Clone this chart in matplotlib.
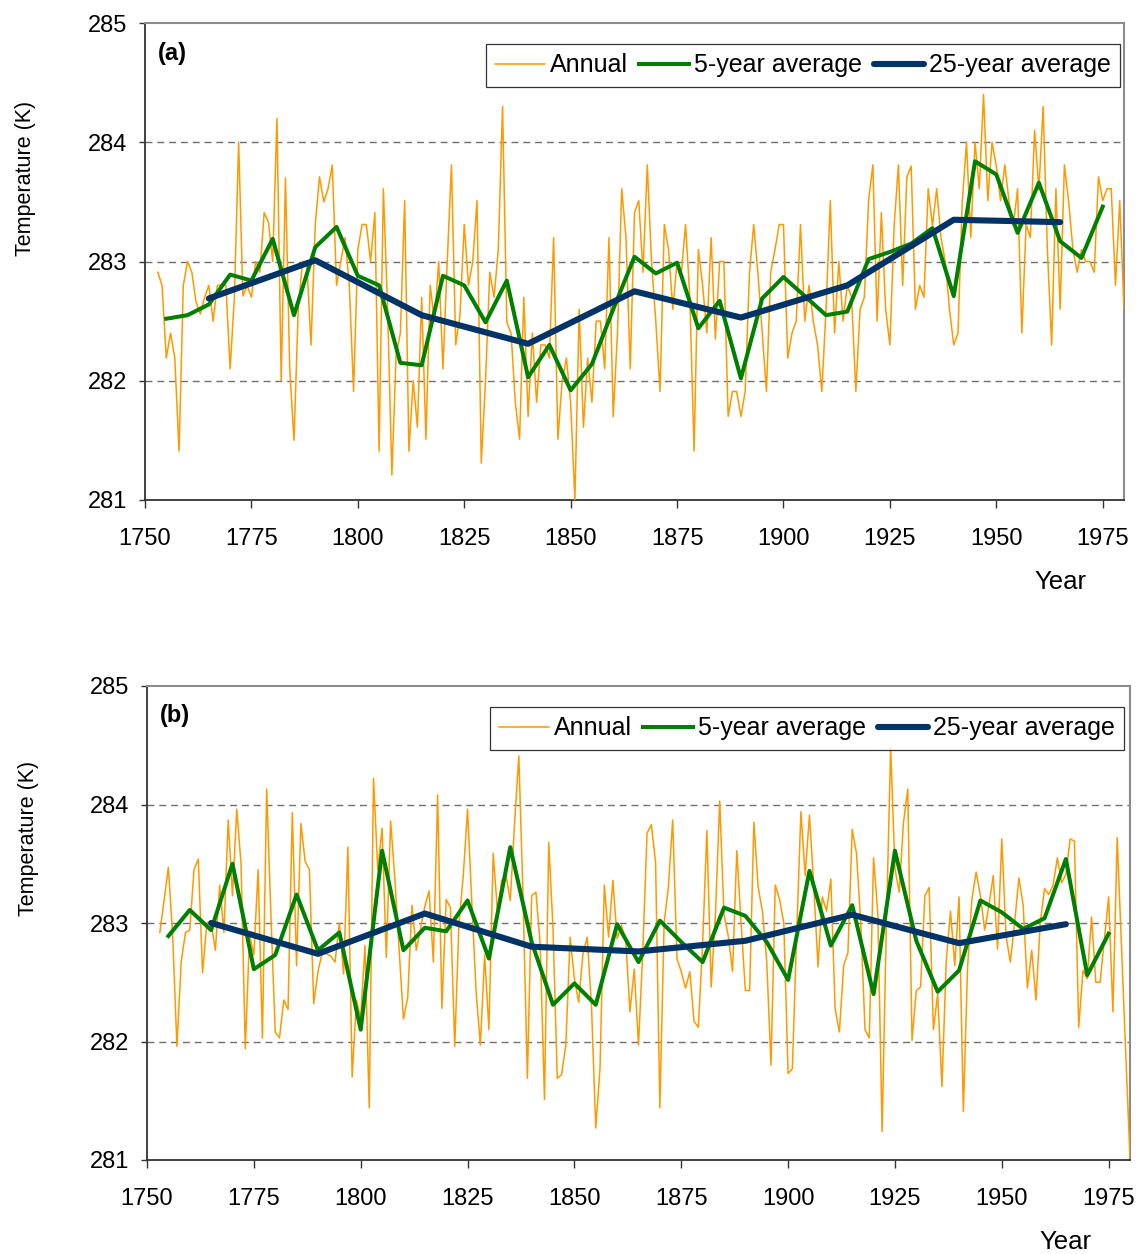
import numpy as np
import matplotlib
matplotlib.use("Agg")
import matplotlib.pyplot as plt

plt.rcParams['font.family'] = ['Liberation Sans', 'DejaVu Sans']

# ---------------- data ----------------
first_year = 1753

annual_a = [
    282.91, 282.80, 282.19, 282.40, 282.19, 281.41, 282.80, 283.00, 282.91, 282.66,  # 1753-1762
    282.56, 282.70, 282.80, 282.50, 282.80, 282.80, 282.80, 282.10, 282.70, 284.00,  # 1763-1772
    282.71, 282.80, 282.70, 283.00, 282.91, 283.41, 283.33, 283.00, 284.20, 282.00,  # 1773-1782
    283.70, 282.10, 281.50, 282.60, 283.00, 283.00, 282.30, 283.31, 283.71, 283.50,  # 1783-1792
    283.61, 283.81, 282.80, 283.00, 283.20, 282.80, 281.91, 283.10, 283.31, 283.31,  # 1793-1802
    283.00, 283.41, 281.41, 283.61, 282.60, 281.21, 282.22, 282.40, 283.51, 281.41,  # 1803-1812
    282.00, 281.61, 282.70, 281.51, 282.80, 282.50, 283.00, 282.10, 283.00, 283.81,  # 1813-1822
    282.30, 282.55, 283.31, 282.80, 283.00, 283.51, 281.31, 282.00, 282.91, 282.70,  # 1823-1832
    283.10, 284.30, 282.49, 282.40, 281.82, 281.51, 282.70, 281.70, 282.40, 281.82,  # 1833-1842
    282.30, 282.30, 282.19, 283.20, 281.51, 282.00, 282.19, 281.81, 281.00, 282.60,  # 1843-1852
    281.61, 282.19, 281.82, 282.50, 282.50, 282.10, 283.20, 281.70, 282.40, 283.61,  # 1853-1862
    283.20, 282.10, 283.41, 283.51, 282.91, 283.81, 283.00, 282.50, 281.91, 283.31,  # 1863-1872
    283.10, 282.60, 283.00, 282.90, 283.31, 282.70, 281.41, 283.10, 282.80, 282.40,  # 1873-1882
    283.20, 282.35, 283.00, 283.00, 281.70, 281.91, 281.91, 281.70, 281.91, 282.90,  # 1883-1892
    283.31, 282.90, 282.40, 281.91, 282.91, 283.10, 283.31, 283.31, 282.19, 282.40,  # 1893-1902
    282.50, 283.31, 282.50, 282.80, 282.50, 282.30, 281.91, 282.60, 283.51, 282.40,  # 1903-1912
    283.00, 282.50, 282.80, 282.70, 281.91, 282.60, 282.70, 283.51, 283.81, 282.50,  # 1913-1922
    283.41, 282.60, 282.30, 283.30, 283.81, 282.80, 283.71, 283.80, 282.60, 282.80,  # 1923-1932
    282.70, 283.61, 283.30, 283.61, 283.20, 283.00, 282.60, 282.30, 282.40, 283.50,  # 1933-1942
    284.00, 283.20, 284.00, 283.61, 284.40, 283.51, 284.00, 283.80, 283.51, 283.81,  # 1943-1952
    283.50, 283.30, 283.61, 282.40, 283.31, 283.20, 284.10, 283.60, 284.30, 283.10,  # 1953-1962
    282.30, 283.61, 282.60, 283.81, 283.50, 283.10, 282.91, 283.10, 283.00, 283.00,  # 1963-1972
    282.91, 283.71, 283.51, 283.61, 283.61, 282.80, 283.51, 282.60,                  # 1973-1980
]

annual_b = [
    282.92, 283.19, 283.47, 282.90, 281.96, 282.67, 282.92, 282.94, 283.45, 283.54,  # 1753-1762
    282.58, 283.00, 283.00, 282.77, 283.32, 282.92, 283.87, 283.23, 283.96, 283.50,  # 1763-1772
    281.94, 282.90, 282.73, 283.45, 282.03, 284.13, 283.06, 282.08, 282.03, 282.35,  # 1773-1782
    282.27, 283.93, 282.64, 283.84, 283.52, 283.45, 282.32, 282.59, 282.75, 282.74,  # 1783-1792
    282.72, 282.67, 283.00, 282.57, 283.64, 281.70, 282.35, 282.20, 282.81, 281.44,  # 1793-1802
    284.22, 283.45, 283.80, 282.71, 283.86, 283.37, 282.77, 282.19, 282.37, 283.15,  # 1803-1812
    282.77, 282.95, 283.14, 283.27, 282.67, 284.08, 282.28, 283.20, 283.13, 281.96,  # 1813-1822
    283.00, 283.40, 283.96, 283.17, 282.42, 281.97, 282.73, 282.10, 283.59, 283.10,  # 1823-1832
    283.36, 283.40, 283.19, 283.84, 284.41, 283.20, 281.69, 283.23, 283.26, 282.82,  # 1833-1842
    281.51, 283.68, 282.95, 281.69, 281.72, 281.97, 282.88, 282.53, 282.33, 282.74,  # 1843-1852
    282.88, 282.30, 281.27, 281.78, 283.32, 282.88, 283.36, 282.87, 282.98, 282.86,  # 1853-1862
    282.25, 282.61, 281.97, 282.76, 283.76, 283.83, 283.51, 281.44, 283.00, 283.31,  # 1863-1872
    283.87, 282.70, 282.59, 282.45, 282.59, 282.17, 282.12, 282.82, 283.78, 282.46,  # 1873-1882
    283.07, 284.03, 283.07, 282.89, 282.59, 283.61, 283.00, 282.43, 282.43, 283.85,  # 1883-1892
    283.30, 283.10, 282.68, 281.80, 283.32, 283.20, 283.00, 281.73, 281.77, 282.90,  # 1893-1902
    283.94, 283.40, 283.91, 283.32, 282.63, 283.22, 283.10, 283.37, 282.28, 282.08,  # 1903-1912
    282.64, 282.75, 283.79, 283.59, 283.00, 282.10, 282.03, 283.55, 283.08, 281.24,  # 1913-1922
    283.00, 284.48, 283.46, 283.26, 283.85, 284.13, 282.01, 282.43, 282.46, 283.23,  # 1923-1932
    283.30, 282.10, 282.40, 281.62, 282.68, 283.10, 282.64, 283.22, 281.41, 282.63,  # 1933-1942
    283.20, 283.43, 283.23, 282.94, 283.15, 283.40, 282.78, 283.71, 282.89, 282.67,  # 1943-1952
    283.00, 283.38, 283.15, 282.45, 282.77, 282.35, 283.00, 283.29, 283.24, 283.32,  # 1953-1962
    283.55, 283.34, 283.41, 283.71, 283.69, 282.12, 282.60, 282.53, 283.05, 282.50,  # 1963-1972
    282.50, 282.86, 283.22, 282.25, 283.72, 282.80, 281.90, 281.02,                  # 1973-1980
]

years_5 = list(range(1755, 1976, 5))
avg5_a = [282.52, 282.55, 282.64, 282.89, 282.84, 283.19, 282.55, 283.12, 283.29,
          282.88, 282.80, 282.15, 282.13, 282.88, 282.80, 282.49, 282.84, 282.03, 282.30,
          281.92, 282.14, 282.60, 283.04, 282.90, 282.99, 282.44, 282.67, 282.02, 282.69,
          282.87, 282.71, 282.55, 282.58, 283.02, 283.08, 283.15, 283.28, 282.71, 283.84,
          283.73, 283.24, 283.66, 283.17, 283.03, 283.46]
avg5_b = [282.89, 283.11, 282.94, 283.50, 282.61, 282.73, 283.24, 282.77, 282.92,
          282.10, 283.61, 282.77, 282.96, 282.93, 283.19, 282.70, 283.64, 282.84, 282.31,
          282.49, 282.31, 282.99, 282.67, 283.02, 282.84, 282.67, 283.13, 283.06, 282.84,
          282.52, 283.44, 282.81, 283.15, 282.40, 283.61, 282.85, 282.42, 282.60, 283.19,
          283.09, 282.95, 283.04, 283.54, 282.56, 282.91]

years_25 = [1765, 1790, 1815, 1840, 1865, 1890, 1915, 1940, 1965]
avg25_a = [282.69, 283.01, 282.55, 282.31, 282.75, 282.53, 282.80, 283.35, 283.33]
avg25_b = [283.00, 282.74, 283.08, 282.80, 282.76, 282.85, 283.07, 282.83, 282.99]

x_ticks = [1750, 1775, 1800, 1825, 1850, 1875, 1900, 1925, 1950, 1975]
y_ticks = [281, 282, 283, 284, 285]
legend_labels = ['Annual', '5-year average', '25-year average']

# ---------------- figure ----------------
W, H = 1140, 1254
fig = plt.figure(figsize=(W / 100, H / 100), dpi=100)
fig.patch.set_facecolor('white')


def px_axes(l, t, r, b):
    return fig.add_axes([l / W, 1 - b / H, (r - l) / W, (b - t) / H])


ax_a = px_axes(145, 23, 1124, 500)
ax_b = px_axes(147, 686, 1130, 1160)


def draw(ax, annual, avg5, avg25, tag, anchor):
    years = np.arange(first_year, first_year + len(annual))
    ax.plot(years, annual, color='#FF9900', lw=1.1, label=legend_labels[0], zorder=3)
    ax.plot(years_5, avg5, color='#008000', lw=2.9, label=legend_labels[1], zorder=4)
    ax.plot(years_25, avg25, color='#003366', lw=4.4, label=legend_labels[2], zorder=5,
            solid_capstyle='round')
    ax.set_xlim(1750, 1980)
    ax.set_ylim(281, 285)
    ax.set_xticks(x_ticks)
    ax.set_yticks(y_ticks)
    for yv in y_ticks[1:-1]:
        ax.axhline(yv, color='#707070', lw=1.0, ls=(0, (5, 3.5)), zorder=1)
    for s in ['left', 'bottom']:
        ax.spines[s].set_color('#333333')
        ax.spines[s].set_linewidth(1.3)
    for s in ['top', 'right']:
        ax.spines[s].set_color('#8c8c8c')
        ax.spines[s].set_linewidth(1.5)
    ax.tick_params(axis='x', direction='out', length=6, width=1, pad=14,
                   labelsize=17, colors='#333333', labelcolor='black')
    ax.tick_params(axis='y', direction='out', length=4, width=1, pad=9,
                   labelsize=17, colors='#333333', labelcolor='black')
    leg = ax.legend(loc='upper right', bbox_to_anchor=anchor, ncol=3, frameon=True,
                    fancybox=False, edgecolor='black', fontsize=18, handlelength=2.0,
                    handletextpad=0.2, columnspacing=0.45, borderpad=0.38,
                    borderaxespad=0)
    leg.get_frame().set_linewidth(0.9)
    ax.text(0.013, 0.937, tag, transform=ax.transAxes, fontweight='bold',
            fontsize=17, va='center', ha='left')


draw(ax_a, annual_a, avg5_a, avg25_a, '(a)', (0.996, 0.956))
draw(ax_b, annual_b, avg5_b, avg25_b, '(b)', (0.994, 0.956))

fig.text(1060 / W, 1 - 582 / H, 'Year', ha='center', va='center', fontsize=18.5)
fig.text(1065 / W, 1 - 1242 / H, 'Year', ha='center', va='center', fontsize=18.5)
fig.text(26 / W, 1 - 178 / H, 'Temperature (K)', rotation=90, ha='center',
         va='center', fontsize=15.5)
fig.text(29 / W, 1 - 838 / H, 'Temperature (K)', rotation=90, ha='center',
         va='center', fontsize=15.5)

fig.savefig('out.png', dpi=100, facecolor='white')
